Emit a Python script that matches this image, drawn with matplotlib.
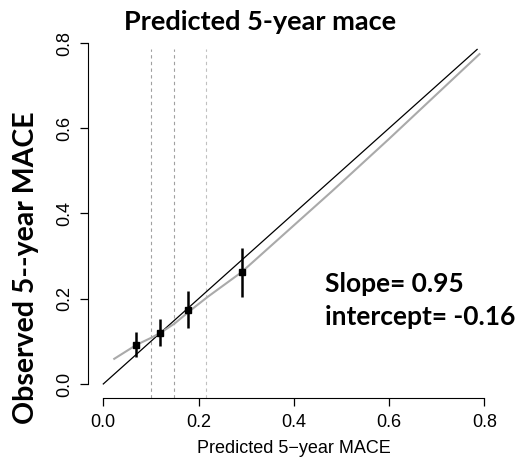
import numpy as np
import matplotlib.pyplot as plt

# calibration groups (predicted vs observed with 95% CI)
pred_grp = [0.069, 0.120, 0.178, 0.292]
obs_grp = [0.092, 0.119, 0.174, 0.262]
obs_lo = [0.064, 0.088, 0.131, 0.204]
obs_hi = [0.123, 0.152, 0.217, 0.320]

# smoothed calibration curve (grey)
smooth_x = [0.023, 0.05, 0.07, 0.10, 0.12, 0.15, 0.18, 0.22, 0.29, 0.35, 0.48, 0.60, 0.79]
smooth_y = [0.059, 0.078, 0.092, 0.108, 0.120, 0.142, 0.170, 0.205, 0.262, 0.322, 0.452, 0.575, 0.774]

# risk group cut points
cuts = [0.10, 0.148, 0.216]

ticks = [0.0, 0.2, 0.4, 0.6, 0.8]

fig = plt.figure(figsize=(5.22, 4.57), dpi=100)
ax = fig.add_axes([0.1687, 0.130, 0.7882, 0.8057])
ax.set_xlim(-0.032, 0.832)
ax.set_ylim(-0.032, 0.832)

for i, c in enumerate(cuts):
    ax.vlines(c, -0.032, 0.785, colors='#a0a0a0' if i < 2 else '#c0c0c0',
              linestyles=(0, (3, 3)), linewidth=0.8)

ax.plot([0, 0.785], [0, 0.785], color='black', linewidth=0.9)
ax.plot(smooth_x, smooth_y, color='#aaaaaa', linewidth=1.5)

ax.vlines(pred_grp, obs_lo, obs_hi, colors='black', linewidth=1.8)
ax.plot(pred_grp, obs_grp, 's', color='black', markersize=4)

for s in ['top', 'right']:
    ax.spines[s].set_visible(False)
ax.spines['bottom'].set_bounds(0, 0.8)
ax.spines['left'].set_bounds(0, 0.8)
ax.set_xticks(ticks)
ax.set_yticks(ticks)
ax.set_xticklabels([f'{t:.1f}' for t in ticks], fontfamily='Liberation Sans', fontsize=13)
ax.set_yticklabels([f'{t:.1f}' for t in ticks], fontfamily='Liberation Sans', fontsize=13,
                   rotation=90, va='center')
ax.tick_params(axis='x', length=6, width=0.9, pad=6)
ax.tick_params(axis='y', length=6, width=0.9, pad=5)

ax.set_xlabel('Predicted 5\u2212year MACE', fontfamily='Liberation Sans', fontsize=13, labelpad=6)
fig.text(0.05, 0.414, 'Observed 5--year MACE', rotation=90, ha='center', va='center',
         fontfamily='Lato', fontweight='bold', fontsize=20.5)
fig.text(0.498, 0.935, 'Predicted 5-year mace', ha='center', va='baseline',
         fontfamily='Lato', fontweight='bold', fontsize=19.5)
fig.text(0.623, 0.361, 'Slope= 0.95', ha='left', va='baseline',
         fontfamily='Lato', fontweight='bold', fontsize=19)
fig.text(0.623, 0.289, 'intercept= -0.16', ha='left', va='baseline',
         fontfamily='Lato', fontweight='bold', fontsize=19)

fig.savefig('out.png', dpi=100)
